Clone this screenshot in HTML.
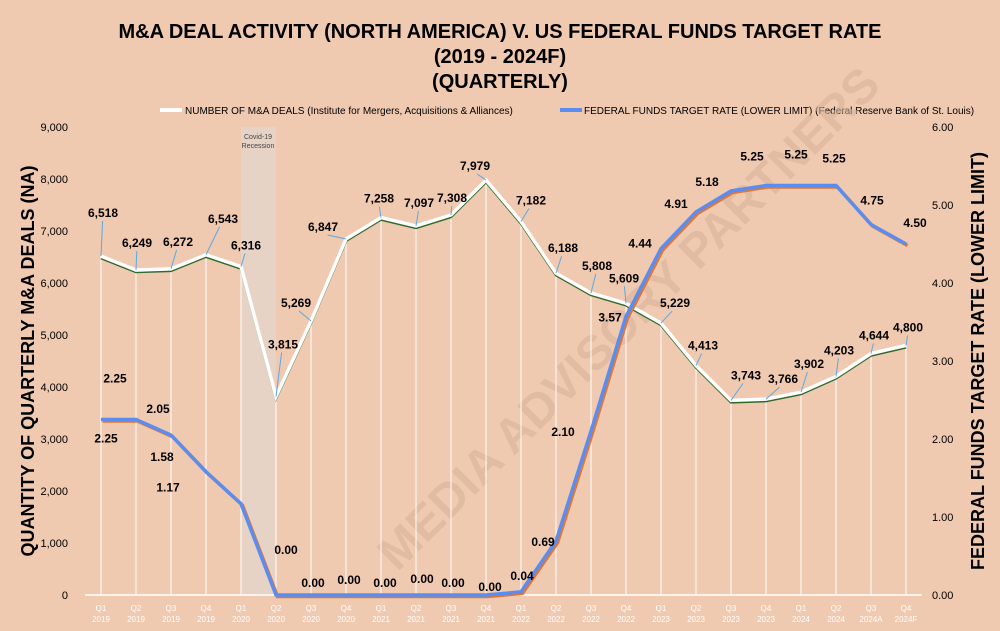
<!DOCTYPE html>
<html><head><meta charset="utf-8"><style>
html,body{margin:0;padding:0;background:#efc9b0;}
svg{display:block;font-family:"Liberation Sans",sans-serif;}
</style></head><body>
<svg id="chart" width="1000" height="631" viewBox="0 0 1000 631">
<rect width="1000" height="631" fill="#efc9b0"/>
<text x="500" y="38" text-anchor="middle" font-size="20" font-weight="bold">M&amp;A DEAL ACTIVITY (NORTH AMERICA) V. US FEDERAL FUNDS TARGET RATE</text>
<text x="500" y="63" text-anchor="middle" font-size="20" font-weight="bold">(2019 - 2024F)</text>
<text x="500" y="88" text-anchor="middle" font-size="20" font-weight="bold">(QUARTERLY)</text>
<g><line x1="160" y1="110" x2="182" y2="110" stroke="#fff" stroke-width="4"/><text x="185" y="114" font-size="10">NUMBER OF M&amp;A DEALS (Institute for Mergers, Acquisitions &amp; Alliances)</text></g>
<g><line x1="560" y1="110" x2="582" y2="110" stroke="#5b8def" stroke-width="4"/><text x="584" y="114" font-size="10">FEDERAL FUNDS TARGET RATE (LOWER LIMIT) (Federal Reserve Bank of St. Louis)</text></g>
<text x="0" y="0" transform="translate(640,330) rotate(-45)" text-anchor="middle" font-size="48" font-weight="bold" fill="#d9b49c" opacity="0.6">MEDIA ADVISORY PARTNERS</text>
<rect x="241" y="127" width="35" height="468" fill="#e6d3c6"/>
<text x="258" y="139" text-anchor="middle" font-size="7" fill="#444">Covid-19</text>
<text x="258" y="148" text-anchor="middle" font-size="7" fill="#444">Recession</text>
<text x="0" y="0" transform="translate(34,361) rotate(-90)" text-anchor="middle" font-size="18" font-weight="bold">QUANTITY OF QUARTERLY M&amp;A DEALS (NA)</text>
<text x="0" y="0" transform="translate(984,361) rotate(-90)" text-anchor="middle" font-size="18" font-weight="bold">FEDERAL FUNDS TARGET RATE (LOWER LIMIT)</text>
<g id="g"></g>
</svg>
<script>
const quarters=["Q1","Q2","Q3","Q4","Q1","Q2","Q3","Q4","Q1","Q2","Q3","Q4","Q1","Q2","Q3","Q4","Q1","Q2","Q3","Q4","Q1","Q2","Q3","Q4"];
const years=["2019","2019","2019","2019","2020","2020","2020","2020","2021","2021","2021","2021","2022","2022","2022","2022","2023","2023","2023","2023","2024","2024","2024A","2024F"];
const deals=[6518,6249,6272,6543,6316,3815,5269,6847,7258,7097,7308,7979,7182,6188,5808,5609,5229,4413,3743,3766,3902,4203,4644,4800];
const rates=[2.25,2.25,2.05,1.58,1.17,0,0,0,0,0,0,0,0.04,0.69,2.10,3.57,4.44,4.91,5.18,5.25,5.25,5.25,4.75,4.50];
const leftTicks=[0,1000,2000,3000,4000,5000,6000,7000,8000,9000];
const rightTicks=[0,1,2,3,4,5,6];
const dealLabelOff=[[2,-39],[1,-23],[7,-23],[17,-32],[5,-17],[7,-48],[-15,-14],[-23,-8],[-2,-15],[3,-19],[1,-13],[-11,-10],[10,-17],[7,-21],[6,-23],[-2,-21],[14,-16],[7,-16],[15,-21],[17,-16],[8,-24],[3,-22],[3,-14],[2,-14]];
const rateLabelOff=[[14,-37],[-30,23],[-13,-22],[-44,-11],[-73,-12],[10,-41],[2,-8],[3,-11],[4,-8],[6,-12],[2,-8],[4,-4],[1,-12],[-13,5],[-28,5],[-16,5],[-21,-1],[-20,-4],[-24,-5],[-14,-25],[-5,-27],[-2,-23],[1,-20],[9,-17]];
const X=i=>101+i*35;
const YL=v=>595-v*468/9000;
const YR=v=>595-v*468/6;
const g=document.getElementById('g');
const NS='http://www.w3.org/2000/svg';
function mk(t,a){const e=document.createElementNS(NS,t);for(const k in a)e.setAttribute(k,a[k]);g.appendChild(e);return e;}
leftTicks.forEach(v=>{const t=mk('text',{x:68,y:YL(v)+4,'text-anchor':'end','font-size':11});t.textContent=v.toLocaleString('en-US');

});
rightTicks.forEach(v=>{const t=mk('text',{x:932,y:YR(v)+4,'font-size':11});t.textContent=v.toFixed(2);

});
const base=mk('line',{x1:85,y1:595,x2:922,y2:595,stroke:'#fff','stroke-width':1.5});


deals.forEach((v,i)=>{const l=mk('line',{x1:X(i),y1:YL(v),x2:X(i),y2:595,stroke:'#fff','stroke-width':1});


const a=mk('text',{x:X(i),y:611,'text-anchor':'middle','font-size':8,fill:'#fff'});a.textContent=quarters[i];


const b=mk('text',{x:X(i),y:622,'text-anchor':'middle','font-size':8,fill:'#fff'});b.textContent=years[i];

});
const dp=deals.map((v,i)=>X(i)+','+YL(v)).join(' ');
const dg=mk('polyline',{points:deals.map((v,i)=>X(i)+','+(YL(v)+2)).join(' '),fill:'none',stroke:'#2f6a2a','stroke-width':2.5});


const dl=mk('polyline',{points:dp,fill:'none',stroke:'#fff','stroke-width':3.5});


const rs=mk('polyline',{points:rates.map((v,i)=>(X(i)+1.5)+','+(YR(v)+1.5)).join(' '),fill:'none',stroke:'#e0773a','stroke-width':3.5});


const rl=mk('polyline',{points:rates.map((v,i)=>X(i)+','+YR(v)).join(' '),fill:'none',stroke:'#5b8def','stroke-width':3.5});


deals.forEach((v,i)=>{const o=dealLabelOff[i];const x=X(i)+o[0],y=YL(v)+o[1];
const ld=mk('line',{x1:X(i),y1:YL(v),x2:X(i)+o[0]*0.8,y2:y+4,stroke:'#5aa9e6','stroke-width':1});


const t=mk('text',{x:x,y:y,'text-anchor':'middle','font-size':12,'font-weight':'bold',fill:'#000'});t.textContent=v.toLocaleString('en-US');

});
rates.forEach((v,i)=>{const o=rateLabelOff[i];const x=X(i)+o[0],y=YR(v)+o[1];
const t=mk('text',{x:x,y:y,'text-anchor':'middle','font-size':12,'font-weight':'bold'});t.textContent=v.toFixed(2);

});
</script>
</body></html>
